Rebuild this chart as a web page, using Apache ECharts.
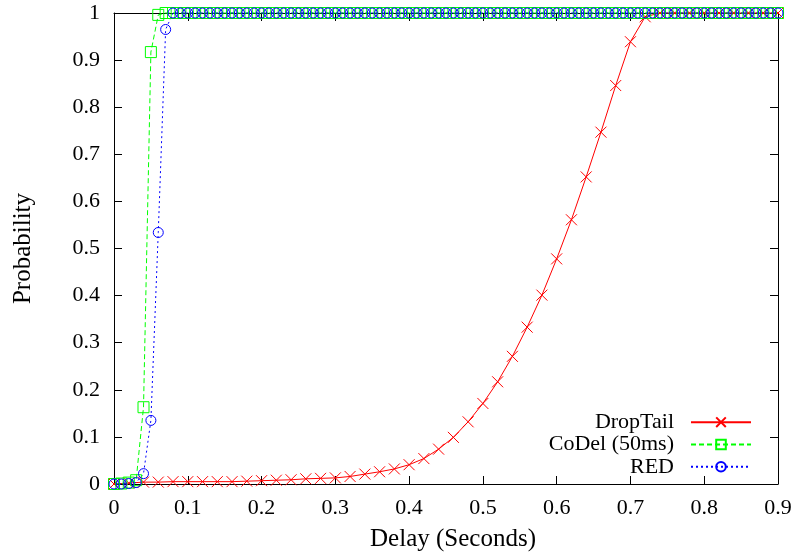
<!DOCTYPE html>
<html>
<head>
<meta charset="utf-8">
<script src="https://cdn.jsdelivr.net/npm/echarts@6/dist/echarts.min.js"></script>
<style>
html,body{margin:0;padding:0;background:#fff;}
#chart{width:795px;height:556px;}
</style>
</head>
<body>
<div id="chart"></div>
<script>
// Delay (seconds) sample points
const xDropTail = [0,0.02,0.04,0.06,0.08,0.10,0.12,0.14,0.16,0.18,0.20,0.22,0.24,0.26,0.28,0.30,0.32,0.34,0.36,0.38,
  0.40,0.42,0.44,0.46,0.48,0.50,0.52,0.54,0.56,0.58,0.60,0.62,0.64,0.66,0.68,0.70,0.72,0.74,0.76,0.78,
  0.80,0.82,0.84,0.86,0.88,0.90];
const dropTail = [0,0.002,0.004,0.004,0.005,0.005,0.005,0.005,0.005,0.006,0.007,0.008,0.009,0.011,0.012,0.013,0.016,0.021,0.026,0.032,
  0.041,0.054,0.074,0.099,0.132,0.171,0.217,0.271,0.333,0.401,0.478,0.561,0.652,0.747,0.846,0.939,0.992,1,1,1,
  1,1,1,1,1,1];

const xFine = [0,0.01,0.02,0.03,0.04,0.05,0.06,0.07,0.08,0.09,
  0.10,0.11,0.12,0.13,0.14,0.15,0.16,0.17,0.18,0.19,
  0.20,0.21,0.22,0.23,0.24,0.25,0.26,0.27,0.28,0.29,
  0.30,0.31,0.32,0.33,0.34,0.35,0.36,0.37,0.38,0.39,
  0.40,0.41,0.42,0.43,0.44,0.45,0.46,0.47,0.48,0.49,
  0.50,0.51,0.52,0.53,0.54,0.55,0.56,0.57,0.58,0.59,
  0.60,0.61,0.62,0.63,0.64,0.65,0.66,0.67,0.68,0.69,
  0.70,0.71,0.72,0.73,0.74,0.75,0.76,0.77,0.78,0.79,
  0.80,0.81,0.82,0.83,0.84,0.85,0.86,0.87,0.88,0.89,0.90];
const codel = [0,0.001,0.003,0.008,0.163,0.917,0.996,1,1,1,
  1,1,1,1,1,1,1,1,1,1,
  1,1,1,1,1,1,1,1,1,1,
  1,1,1,1,1,1,1,1,1,1,
  1,1,1,1,1,1,1,1,1,1,
  1,1,1,1,1,1,1,1,1,1,
  1,1,1,1,1,1,1,1,1,1,
  1,1,1,1,1,1,1,1,1,1,
  1,1,1,1,1,1,1,1,1,1,1];
const red = [0,0,0.001,0.003,0.022,0.135,0.534,0.965,1,1,
  1,1,1,1,1,1,1,1,1,1,
  1,1,1,1,1,1,1,1,1,1,
  1,1,1,1,1,1,1,1,1,1,
  1,1,1,1,1,1,1,1,1,1,
  1,1,1,1,1,1,1,1,1,1,
  1,1,1,1,1,1,1,1,1,1,
  1,1,1,1,1,1,1,1,1,1,
  1,1,1,1,1,1,1,1,1,1,1];

const seriesNames = ['DropTail', 'CoDel (50ms)', 'RED'];
const xTitle = 'Delay (Seconds)';
const yTitle = 'Probability';

const FONT = '"Liberation Serif", "Times New Roman", serif';
const pairs = (xs, ys) => xs.map((x, i) => [x, ys[i]]);
const fmt = v => String(+v.toFixed(1));

const axisCommon = {
  type: 'value',
  axisLine: {show: true, onZero: false, lineStyle: {color: '#000', width: 1}},
  axisTick: {show: true, inside: true, length: 8, lineStyle: {color: '#000', width: 1}},
  splitLine: {show: false}
};

const chart = echarts.init(document.getElementById('chart'), null, {renderer: 'canvas'});
chart.setOption({
  animation: false,
  backgroundColor: '#fff',
  grid: {left: 114, right: 17, top: 13, bottom: 72, containLabel: false, outerBoundsMode: 'none'},
  legend: {
    orient: 'vertical',
    right: 38,
    top: 406,
    align: 'right',
    itemWidth: 60,
    itemHeight: 12,
    itemGap: 0,
    textStyle: {fontFamily: FONT, fontSize: 22, color: '#000', lineHeight: 22.3, padding: [0, 12, 0, 0]},
    data: seriesNames
  },
  xAxis: [
    Object.assign({}, axisCommon, {
      min: 0, max: 0.9, interval: 0.1, position: 'bottom',
      axisLabel: {fontFamily: FONT, fontSize: 22, color: '#000', margin: 13, formatter: fmt},
      name: xTitle, nameLocation: 'middle', nameGap: 43,
      nameTextStyle: {fontFamily: FONT, fontSize: 25, color: '#000', padding: [0, 0, 0, 14]}
    }),
    Object.assign({}, axisCommon, {
      min: 0, max: 0.9, interval: 0.1, position: 'top',
      axisLabel: {show: false}
    })
  ],
  yAxis: [
    Object.assign({}, axisCommon, {
      min: 0, max: 1, interval: 0.1, position: 'left',
      axisLabel: {fontFamily: FONT, fontSize: 22, color: '#000', margin: 14, formatter: fmt},
      name: yTitle, nameLocation: 'middle', nameGap: 78,
      nameTextStyle: {fontFamily: FONT, fontSize: 25, color: '#000'}
    }),
    Object.assign({}, axisCommon, {
      min: 0, max: 1, interval: 0.1, position: 'right',
      axisLabel: {show: false}
    })
  ],
  series: [
    {
      name: seriesNames[0], type: 'line', data: pairs(xDropTail, dropTail),
      xAxisIndex: 0, yAxisIndex: 0, clip: false, showAllSymbol: true,
      symbol: 'path://M0,0L10,10M10,0L0,10', symbolSize: 11,
      lineStyle: {color: '#ff0000', width: 1, type: 'solid'},
      itemStyle: {color: 'rgba(0,0,0,0)', borderColor: '#ff0000', borderWidth: 1},
      emphasis: {disabled: true}
    },
    {
      name: seriesNames[1], type: 'line', data: pairs(xFine, codel),
      xAxisIndex: 0, yAxisIndex: 0, clip: false, showAllSymbol: true,
      symbol: 'rect', symbolSize: 11,
      lineStyle: {color: '#00ff00', width: 1, type: [5, 3]},
      itemStyle: {color: 'rgba(0,0,0,0)', borderColor: '#00ff00', borderWidth: 1},
      emphasis: {disabled: true}
    },
    {
      name: seriesNames[2], type: 'line', data: pairs(xFine, red),
      xAxisIndex: 0, yAxisIndex: 0, clip: false, showAllSymbol: true,
      symbol: 'circle', symbolSize: 10,
      lineStyle: {color: '#0000ff', width: 1, type: [2, 3]},
      itemStyle: {color: 'rgba(0,0,0,0)', borderColor: '#0000ff', borderWidth: 1},
      emphasis: {disabled: true}
    }
  ]
});
</script>
</body>
</html>
